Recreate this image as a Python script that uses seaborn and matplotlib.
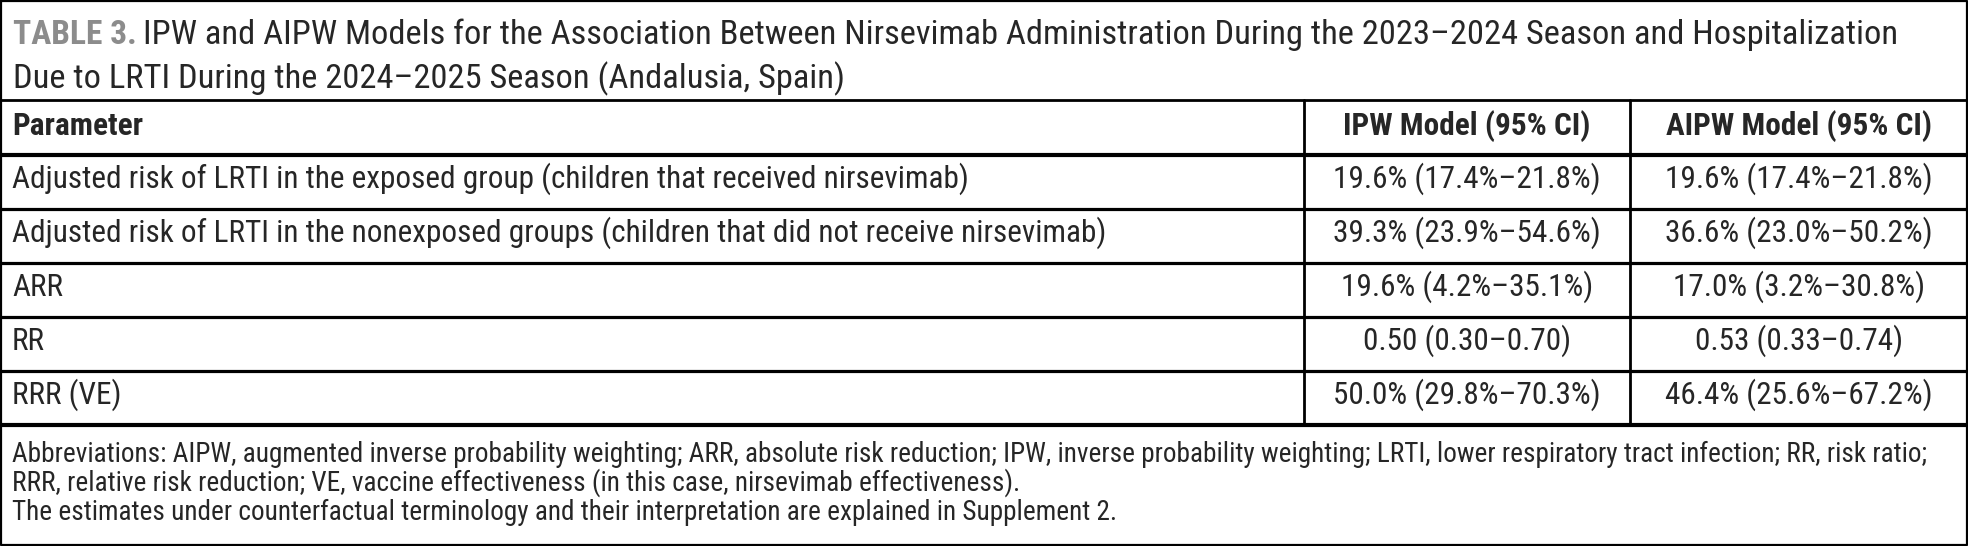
import matplotlib
matplotlib.use("Agg")
import matplotlib.pyplot as plt
from matplotlib import font_manager
import seaborn as sns

# table content
title_tag = "TABLE 3."
title_lines = [
    "IPW and AIPW Models for the Association Between Nirsevimab Administration During the 2023\u20132024 Season and Hospitalization",
    "Due to LRTI During the 2024\u20132025 Season (Andalusia, Spain)",
]
columns = ["Parameter", "IPW Model (95% CI)", "AIPW Model (95% CI)"]
parameters = [
    "Adjusted risk of LRTI in the exposed group (children that received nirsevimab)",
    "Adjusted risk of LRTI in the nonexposed groups (children that did not receive nirsevimab)",
    "ARR",
    "RR",
    "RRR (VE)",
]
ipw = [
    "19.6% (17.4%\u201321.8%)",
    "39.3% (23.9%\u201354.6%)",
    "19.6% (4.2%\u201335.1%)",
    "0.50 (0.30\u20130.70)",
    "50.0% (29.8%\u201370.3%)",
]
aipw = [
    "19.6% (17.4%\u201321.8%)",
    "36.6% (23.0%\u201350.2%)",
    "17.0% (3.2%\u201330.8%)",
    "0.53 (0.33\u20130.74)",
    "46.4% (25.6%\u201367.2%)",
]
footnotes = [
    "Abbreviations: AIPW, augmented inverse probability weighting; ARR, absolute risk reduction; IPW, inverse probability weighting; LRTI, lower respiratory tract infection; RR, risk ratio;",
    "RRR, relative risk reduction; VE, vaccine effectiveness (in this case, nirsevimab effectiveness).",
    "The estimates under counterfactual terminology and their interpretation are explained in Supplement 2.",
]

W, H = 1968, 546
sns.set_theme(style="white")

# pick the narrowest face that is installed
names = {f.name for f in font_manager.fontManager.ttflist}
family = ["DejaVu Sans"]
for cand in ["Liberation Sans Narrow", "Roboto Condensed", "Open Sans Condensed"]:
    if cand in names:
        family = [cand, "DejaVu Sans"]
        break
plt.rcParams["font.family"] = family

fig = plt.figure(figsize=(W / 100, H / 100), dpi=100)
ax = fig.add_axes([0, 0, 1, 1])
ax.set_xlim(0, W)
ax.set_ylim(H, 0)
ax.axis("off")
fig.canvas.draw()
r = fig.canvas.get_renderer()

# layout (pixels)
x_div = [1304, 1630]
y_title_sep = 100
y_header_sep = 155
row_h = 54
y_rows = [y_header_sep + i * row_h for i in range(len(parameters) + 1)]
pad = 12


def fit_size(text, target, weight="normal", base=20):
    t = ax.text(0, 0, text, fontsize=base, fontweight=weight)
    w = t.get_window_extent(renderer=r).width
    t.remove()
    return base * target / w


fs_tag = fit_size(title_tag, 124, "bold")
fs_title = fit_size(title_lines[0], 1895 - 144)
fs_tag = min(fs_tag, fs_title * 1.08)
fs_row = fit_size(parameters[0], 968 - pad)
fs_foot = fit_size(footnotes[0], 1926 - pad)

# outer border and rules
ax.plot([1, W - 1, W - 1, 1, 1], [1, 1, H - 1, H - 1, 1], color="black", lw=1.6)
ax.axhline(y_title_sep, color="black", lw=2.0)
for i, y in enumerate(y_rows):
    lw = 3.0 if i in (0, len(y_rows) - 1) else 2.3
    ax.axhline(y, color="black", lw=lw)
for x in x_div:
    ax.plot([x, x], [y_title_sep, y_rows[-1]], color="black", lw=2.0)

# title
t = ax.text(13, 44, title_tag, fontsize=fs_tag, fontweight="bold", color="#8c8c8c", va="baseline")
bb = t.get_window_extent(renderer=r)
ax.text(bb.x1 + 6, 44, title_lines[0], fontsize=fs_title, va="baseline")
ax.text(13, 88, title_lines[1], fontsize=fs_title, va="baseline")

# header
y_h = y_title_sep + 35
col_cx = [(x_div[0] + x_div[1]) / 2, (x_div[1] + W) / 2]
ax.text(pad, y_h, columns[0], fontsize=fs_row, fontweight="bold", va="baseline")
for cx, name in zip(col_cx, columns[1:]):
    ax.text(cx, y_h, name, fontsize=fs_row, fontweight="bold", va="baseline", ha="center")

# body
for i, (p, a, b) in enumerate(zip(parameters, ipw, aipw)):
    yb = y_rows[i] + 33
    ax.text(pad, yb, p, fontsize=fs_row, va="baseline")
    ax.text(col_cx[0], yb, a, fontsize=fs_row, va="baseline", ha="center")
    ax.text(col_cx[1], yb, b, fontsize=fs_row, va="baseline", ha="center")

# footnotes
for i, line in enumerate(footnotes):
    ax.text(pad, 462 + i * 29, line, fontsize=fs_foot, va="baseline")

fig.savefig("out.png", dpi=100)
